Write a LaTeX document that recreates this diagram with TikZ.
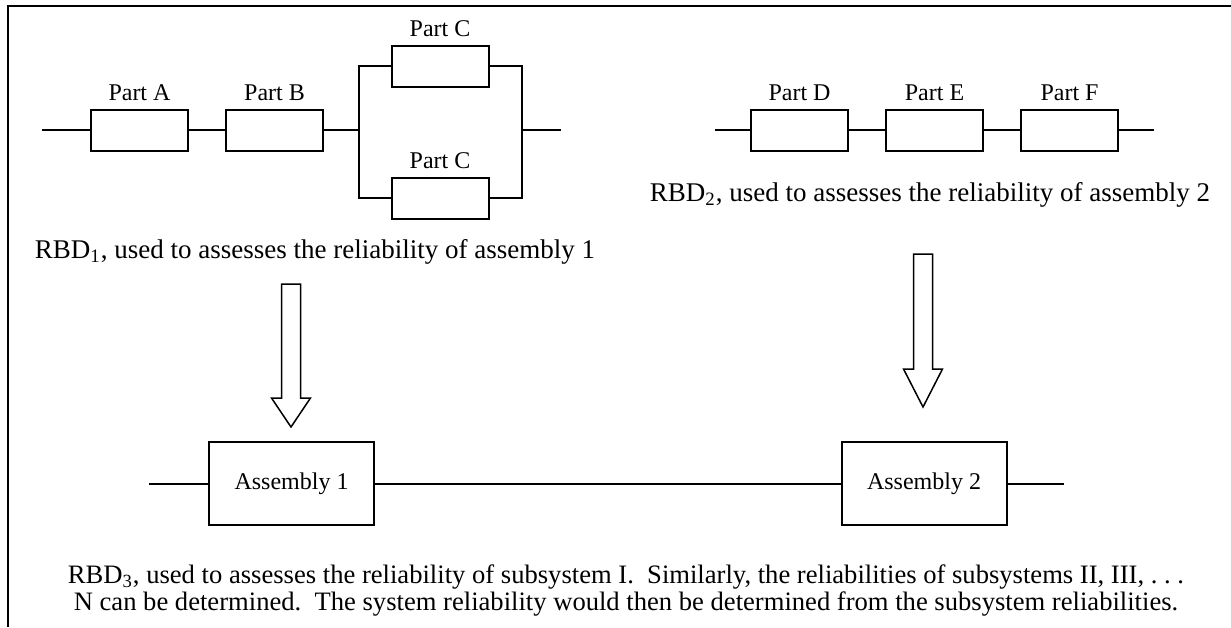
\documentclass[tikz,border=0pt]{standalone}
\usepackage{fontspec}
\setmainfont{Liberation Serif}
\usetikzlibrary{positioning}
\newcommand{\newPart}[4]{\node[part,label=above:{#2},#3](#1)[#4]{};}
\newcommand{\newLink}[3]{\draw (#1) #3 (#2);}
\newcommand{\blockArrow}[4]{\draw[blockarrow] ({#1-9.5},#2) -- ({#1+9.5},#2) -- ({#1+9.5},#3) -- ({#1+19.5},#3) -- (#1,#4) -- ({#1-19.5},#3) -- ({#1-9.5},#3) -- cycle;}

\begin{document}
\begin{tikzpicture}[
    % One unit is one pixel of the page
    x=0.5pt, y=-0.5pt,
    % Stroke thickness of the lines and boxes
    line width=1pt,
    % Gap between boxes in series
    node distance=18pt,
    part/.style={draw, minimum width=48.5pt, minimum height=20.5pt, inner sep=0pt, label distance=0.5pt},
    every label/.style={font=\fontsize{12}{14}\selectfont},
    assembly/.style={draw, minimum width=82.5pt, minimum height=41.5pt, font=\fontsize{12}{14}\selectfont},
    caption/.style={font=\fontsize{13.5}{13.5}\selectfont, anchor=base, inner sep=0pt},
    blockarrow/.style={line width=0.75pt, line join=miter}
    ]

    \useasboundingbox (0,0) rectangle (1231,627);
    \draw (1231,6) -| (8,627);

    % RBD 1
    \coordinate (inA) at (42,130);
    \newPart{A}{Part A}{label distance=2pt}{at={(139.5,130)}}
    \newPart{B}{Part B}{label distance=2pt}{right=of A}
    \coordinate (split) at (359,130);
    \newPart{C1}{Part C}{}{at={(440,66)}}
    \newPart{C2}{Part C}{label distance=-1.5pt}{at={(440,198)}}
    \coordinate (join) at (522,130);
    \coordinate (outC) at (561,130);

    \newLink{inA}{A}{--}
    \newLink{A}{B}{--}
    \newLink{B}{split}{--}
    \newLink{split}{C1}{|-}
    \newLink{split}{C2}{|-}
    \newLink{C1}{join}{-|}
    \newLink{C2}{join}{-|}
    \newLink{join}{outC}{--}

    \node[caption] (cap1) at (315,258) {RBD\textsubscript{1}, used to assesses the reliability of assembly 1};

    % RBD 2
    \coordinate (inD) at (715,130);
    \newPart{D}{Part D}{}{at={(799.5,130)}}
    \newPart{E}{Part E}{}{right=of D}
    \newPart{F}{Part F}{}{right=of E}
    \coordinate (outF) at (1154,130);

    \newLink{inD}{D}{--}
    \newLink{D}{E}{--}
    \newLink{E}{F}{--}
    \newLink{F}{outF}{--}

    \node[caption] (cap2) at (930,201) {RBD\textsubscript{2}, used to assesses the reliability of assembly 2};

    \blockArrow{291}{284}{398}{427}
    \blockArrow{923}{254}{369}{407}

    % RBD 3
    \coordinate (in3) at (149,483.5);
    \node[assembly] (asm1) at (291.5,483.5) {Assembly 1};
    \node[assembly] (asm2) at (924,483.5) {Assembly 2};
    \coordinate (out3) at (1064,483.5);

    \newLink{in3}{asm1}{--}
    \newLink{asm1}{asm2}{--}
    \newLink{asm2}{out3}{--}

    \node[caption, align=center, font=\fontsize{13.3}{13.5}\selectfont] (cap3) at (626,610) {RBD\textsubscript{3}, used to assesses the reliability of subsystem I.\ \ Similarly, the reliabilities of subsystems II, III, .\ .\ .\\N can be determined.\ \ The system reliability would then be determined from the subsystem reliabilities.};
\end{tikzpicture}
\end{document}
